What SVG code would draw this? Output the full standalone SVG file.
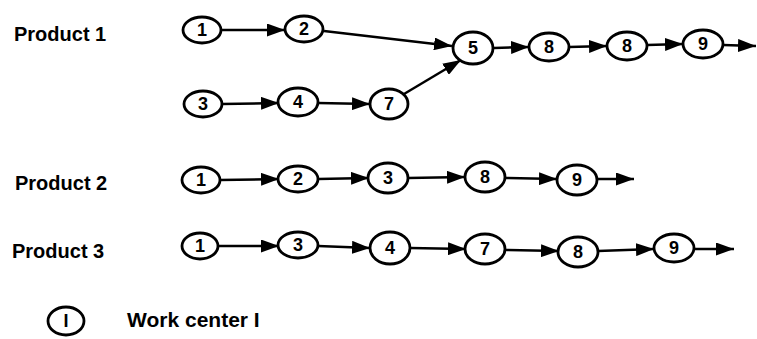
<svg xmlns="http://www.w3.org/2000/svg" width="757" height="339" viewBox="0 0 757 339">
<defs>
<marker id="ah" markerUnits="userSpaceOnUse" markerWidth="18" markerHeight="13" refX="18" refY="6.5" orient="auto"><path d="M0,0 L18,6.5 L0,13 z" fill="#000"/></marker>
<style>
.n ellipse{fill:#fff;stroke:#000;stroke-width:2.8}
.n text{font-family:"Liberation Sans",Arial,sans-serif;font-weight:bold;font-size:18px;text-anchor:middle;fill:#000}
.lbl{font-family:"Liberation Sans",Arial,sans-serif;font-weight:bold;font-size:20px;fill:#000}
#edges line{stroke:#000;stroke-width:2.5;marker-end:url(#ah)}
</style>
</defs>
<rect width="757" height="339" fill="#fff"/>
<text class="lbl" x="14" y="41">Product 1</text>
<text class="lbl" x="15" y="190">Product 2</text>
<text class="lbl" x="12" y="258">Product 3</text>
<text class="lbl" x="127" y="327" style="font-size:21px">Work center I</text>
<g id="edges">
<line x1="222" y1="30" x2="285" y2="30"/>
<line x1="324" y1="31" x2="452" y2="46"/>
<line x1="494" y1="48" x2="529" y2="47"/>
<line x1="569" y1="47" x2="607" y2="46"/>
<line x1="647" y1="45" x2="683" y2="44"/>
<line x1="723" y1="45" x2="756" y2="46"/>
<line x1="222" y1="104" x2="279" y2="103"/>
<line x1="318" y1="103" x2="370" y2="104"/>
<line x1="404" y1="94" x2="461" y2="60"/>
<line x1="220" y1="180" x2="279" y2="179"/>
<line x1="318" y1="179" x2="369" y2="178"/>
<line x1="408" y1="178" x2="465" y2="177"/>
<line x1="505" y1="178" x2="557" y2="179"/>
<line x1="597" y1="179" x2="634" y2="179"/>
<line x1="219" y1="246" x2="279" y2="246"/>
<line x1="318" y1="246" x2="370" y2="248"/>
<line x1="410" y1="248" x2="466" y2="249"/>
<line x1="505" y1="250" x2="559" y2="251"/>
<line x1="598" y1="251" x2="654" y2="249"/>
<line x1="694" y1="249" x2="734" y2="249"/>
</g>
<g id="p1n1" class="n"><ellipse cx="202" cy="30" rx="19" ry="13"/><text x="202" y="36">1</text></g>
<g id="p1n2" class="n"><ellipse cx="304" cy="29" rx="19" ry="13"/><text x="304" y="35">2</text></g>
<g id="p1n5" class="n"><ellipse cx="473" cy="48" rx="20" ry="16"/><text x="473" y="54">5</text></g>
<g id="p1n8a" class="n"><ellipse cx="549" cy="47" rx="20" ry="14"/><text x="549" y="53">8</text></g>
<g id="p1n8b" class="n"><ellipse cx="627" cy="46" rx="20" ry="14"/><text x="627" y="52">8</text></g>
<g id="p1n9" class="n"><ellipse cx="703" cy="44" rx="20" ry="14"/><text x="703" y="50">9</text></g>
<g id="p1n3" class="n"><ellipse cx="203" cy="104" rx="19" ry="13"/><text x="203" y="110">3</text></g>
<g id="p1n4" class="n"><ellipse cx="298" cy="102" rx="20" ry="14"/><text x="298" y="108">4</text></g>
<g id="p1n7" class="n"><ellipse cx="389" cy="104" rx="19" ry="15"/><text x="389" y="110">7</text></g>
<g id="p2n1" class="n"><ellipse cx="201" cy="180" rx="19" ry="13"/><text x="201" y="186">1</text></g>
<g id="p2n2" class="n"><ellipse cx="298" cy="179" rx="20" ry="13"/><text x="298" y="185">2</text></g>
<g id="p2n3" class="n"><ellipse cx="388" cy="178" rx="20" ry="15"/><text x="388" y="184">3</text></g>
<g id="p2n8" class="n"><ellipse cx="485" cy="177" rx="20" ry="15"/><text x="485" y="183">8</text></g>
<g id="p2n9" class="n"><ellipse cx="577" cy="180" rx="20" ry="15"/><text x="577" y="186">9</text></g>
<g id="p3n1" class="n"><ellipse cx="200" cy="246" rx="18" ry="13"/><text x="200" y="252">1</text></g>
<g id="p3n3" class="n"><ellipse cx="298" cy="245" rx="20" ry="13"/><text x="298" y="251">3</text></g>
<g id="p3n4" class="n"><ellipse cx="390" cy="248" rx="20" ry="16"/><text x="390" y="254">4</text></g>
<g id="p3n7" class="n"><ellipse cx="485" cy="249" rx="20" ry="15"/><text x="485" y="255">7</text></g>
<g id="p3n8" class="n"><ellipse cx="578" cy="252" rx="20" ry="15"/><text x="578" y="258">8</text></g>
<g id="p3n9" class="n"><ellipse cx="674" cy="248" rx="20" ry="14"/><text x="674" y="254">9</text></g>
<g id="legend" class="n"><ellipse cx="66" cy="321" rx="18" ry="14"/><text x="66" y="327">I</text></g>
</svg>
